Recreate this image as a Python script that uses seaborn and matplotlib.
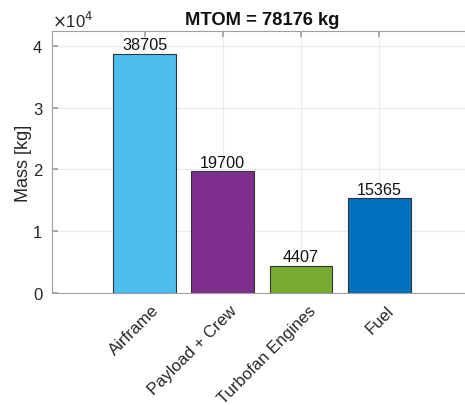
import matplotlib
matplotlib.use("Agg")
import matplotlib.pyplot as plt
import matplotlib.transforms as mtransforms
import seaborn as sns
import pandas as pd

categories = ["Airframe", "Payload + Crew", "Turbofan Engines", "Fuel"]
masses = [38705, 19700, 4407, 15365]
colors = ["#4DBEEE", "#7E2F8E", "#77AC30", "#0072BD"]
yticks = [0, 1, 2, 3, 4]
title = "MTOM = 78176 kg"

sns.set_theme(style="white")
plt.rcParams["font.family"] = ["Liberation Sans", "DejaVu Sans"]

df = pd.DataFrame({"cat": categories, "mass": masses})

W, H = 465, 406
fig = plt.figure(figsize=(W / 100, H / 100), dpi=100)
ax = fig.add_axes([52 / W, (H - 294) / H, (472 - 52) / W, (294 - 32) / H])

sns.barplot(data=df, x="cat", y="mass", hue="cat", palette=colors,
            order=categories, hue_order=categories, legend=False,
            width=0.8, edgecolor="#333333", linewidth=0.8, ax=ax, saturation=1)

spacing = 78.3
ax.set_xlim(-92.5 / spacing, (472 - 144.5) / spacing)
ax.set_ylim(0, 42400)
ax.set_yticks([v * 1e4 for v in yticks])
ax.set_yticklabels([str(v) for v in yticks])
ax.set_xticks(range(len(categories)))
ax.set_xticklabels(categories, rotation=45, ha="right", va="center",
                   rotation_mode="anchor")

for i, v in enumerate(masses):
    ax.text(i, v + 250, str(v), ha="center", va="bottom", fontsize=11.6, color="#111111")

ax.grid(True, color="#ebebeb", linewidth=0.8)
ax.set_axisbelow(True)
for s in ax.spines.values():
    s.set_color("#a0a0a0")
    s.set_linewidth(0.8)
ax.tick_params(direction="in", length=4, color="#a0a0a0", labelcolor="#262626",
               labelsize=12, top=True, right=True, bottom=True, left=True, pad=7)
ax.tick_params(axis="x", pad=10.5)
offset = mtransforms.ScaledTranslation(0.12, 0, fig.dpi_scale_trans)
for lab in ax.get_xticklabels():
    lab.set_transform(lab.get_transform() + offset)
ax.set_xlabel("")
ax.set_ylabel("Mass [kg]", fontsize=13, color="#262626", va="center")
ax.yaxis.set_label_coords((24 - 52) / 420, 0.5)
ax.set_title(title, fontsize=13.2, fontweight="bold", color="#111111", pad=5)
fig.text(52 / W, 1 - 21 / H, r"$\times$10$^4$", fontsize=12, color="#262626",
         ha="left", va="center")

fig.savefig("out.png", dpi=100)
